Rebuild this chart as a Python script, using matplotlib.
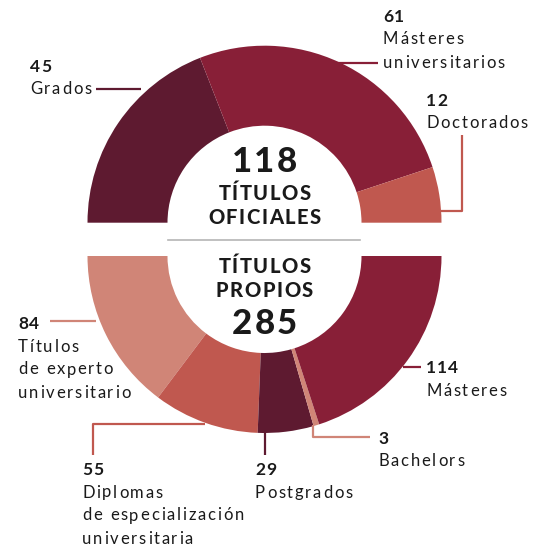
import matplotlib
matplotlib.use('Agg')
import matplotlib.pyplot as plt
from matplotlib.font_manager import FontProperties

# data
oficiales_labels = ["Grados", "Másteres\nuniversitarios", "Doctorados"]
oficiales_values = [45, 61, 12]
propios_labels = ["Títulos\nde experto\nuniversitario", "Diplomas\nde especialización\nuniversitaria",
                  "Postgrados", "Bachelors", "Másteres"]
propios_values = [84, 55, 29, 3, 114]

DARK = "#5e1a30"
CRIMSON = "#881f37"
RED = "#c0584f"
SALMON = "#d08577"
oficiales_colors = [DARK, CRIMSON, RED]
propios_colors = [SALMON, RED, DARK, SALMON, CRIMSON]

W, H = 552, 547
TXT = "#1a1a1a"
FAMILY = ['Lato', 'DejaVu Sans']
plt.rcParams['font.family'] = FAMILY


def Y(y):
    # pixel row (from top) -> data y
    return H - y


fig = plt.figure(figsize=(W / 100, H / 100), dpi=100)
ax = fig.add_axes([0, 0, 1, 1])
renderer = fig.canvas.get_renderer()

R_OUT, R_IN = 177, 97
cx = 264.5

# top half: hidden wedge fills the lower half
tot_of = sum(oficiales_values)
w_top, _ = ax.pie(oficiales_values + [tot_of], colors=oficiales_colors + ["white"],
                  startangle=180, counterclock=False, radius=R_OUT,
                  center=(cx, Y(222.7)), wedgeprops=dict(width=R_OUT - R_IN, linewidth=0))
w_top[-1].set_visible(False)

tot_pr = sum(propios_values)
w_bot, _ = ax.pie(propios_values + [tot_pr], colors=propios_colors + ["white"],
                  startangle=180, counterclock=True, radius=R_OUT,
                  center=(cx, Y(256)), wedgeprops=dict(width=R_OUT - R_IN, linewidth=0))
w_bot[-1].set_visible(False)

ax.set_xlim(0, W)
ax.set_ylim(0, H)
ax.set_aspect('equal')
ax.axis('off')


def text_w(s, fp):
    w, _, _ = renderer.get_text_width_height_descent(s, fp, ismath=False)
    return w


def tracked(x, y, s, size, weight='normal', track=2.0, ha='left'):
    # letter-spaced text, placed glyph by glyph
    fp = FontProperties(family=FAMILY, size=size, weight=weight)
    base = text_w("xx", fp)
    offs = [text_w("x" + s[:i] + "x", fp) - base for i in range(len(s))]
    total = text_w("x" + s + "x", fp) - base + track * (len(s) - 1)
    x0 = x - total / 2 if ha == 'center' else x
    for i, ch in enumerate(s):
        if ch == " ":
            continue
        ax.text(x0 + offs[i] + track * i, y, ch, ha='left', va='baseline',
                fontproperties=fp, color=TXT)


# center texts
tracked(cx, Y(172), str(tot_of), 25, 900, 2, 'center')
tracked(cx, Y(200), "TÍTULOS", 14.5, 900, 1.6, 'center')
tracked(cx, Y(224), "OFICIALES", 14.5, 900, 1.6, 'center')
ax.plot([168, 360], [Y(240), Y(240)], color="#b5b5b5", lw=1.2)
tracked(cx, Y(273), "TÍTULOS", 14.5, 900, 1.6, 'center')
tracked(cx, Y(297), "PROPIOS", 14.5, 900, 1.6, 'center')
tracked(cx, Y(334), str(tot_pr), 25, 900, 2, 'center')


def label(x, y_num, value, text, color_line=None, path=None):
    tracked(x, Y(y_num), str(value), 12.5, 'bold', 1)
    for i, line in enumerate(text.split("\n")):
        tracked(x, Y(y_num + 23 * (i + 1) - 0.5), line, 12, 'normal', 1.8)
    if path is not None:
        xs, ys = zip(*path)
        ax.plot(xs, [Y(v) for v in ys], color=color_line, lw=1.6, solid_capstyle='butt')


# top labels
label(30, 72, oficiales_values[0], oficiales_labels[0], DARK, [(96, 89), (141, 89)])
label(383, 22, oficiales_values[1], oficiales_labels[1], CRIMSON, [(336, 63), (378, 63)])
label(426, 106, oficiales_values[2], oficiales_labels[2], RED,
      [(441, 211), (462, 211), (462, 135)])

# bottom labels
label(18, 329, propios_values[0], propios_labels[0], SALMON, [(50, 321), (96, 321)])
label(82, 475, propios_values[1], propios_labels[1], RED,
      [(205, 424), (93, 424), (93, 455)])
label(255, 475, propios_values[2], propios_labels[2], DARK, [(265, 433), (265, 455)])
label(378, 444, propios_values[3], propios_labels[3], SALMON,
      [(313, 425), (313, 437), (370, 437)])
label(426, 373, propios_values[4], propios_labels[4], CRIMSON, [(403, 367), (421, 367)])

fig.savefig("out.png", dpi=100)
